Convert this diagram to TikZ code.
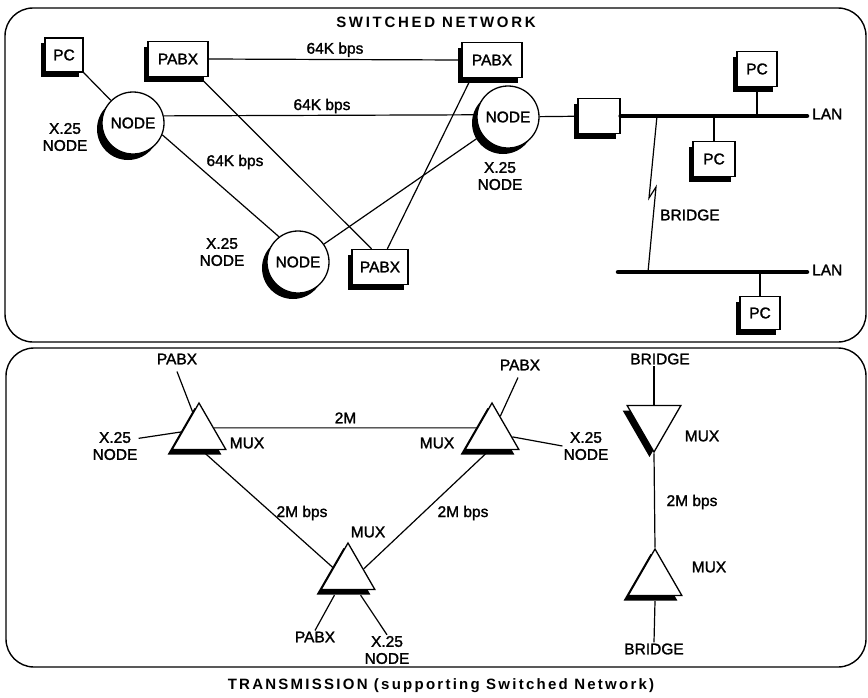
\documentclass[tikz,border=0pt]{standalone}
\usepackage{fontspec}
\setmainfont{Liberation Sans}
\newfontfamily\lblfont{Liberation Sans}[FakeBold=1.6]
\newfontfamily\titlefont{Liberation Sans}[LetterSpace=18]
\newfontfamily\capfont{Liberation Sans}[LetterSpace=15]
\usetikzlibrary{shapes.geometric,shadows,calc}
\begin{document}
\begin{tikzpicture}[x=1pt,y=-1pt,
  txt/.style={font=\lblfont\fontsize{15.5}{17}\selectfont, inner sep=1pt, align=center},
  shad/.style={drop shadow={shadow xshift=-4.5pt,shadow yshift=-5pt,fill=black,opacity=1}},
  rbox/.style={draw, fill=white, line width=1.3pt, shad, inner sep=0pt, font=\lblfont\fontsize{15.5}{17}\selectfont},
  cnode/.style={circle, draw, fill=white, line width=1.3pt, minimum size=62pt, inner sep=0pt,
     drop shadow={shadow xshift=-5pt,shadow yshift=-6pt,fill=black,opacity=1}, font=\lblfont\fontsize{15.5}{17}\selectfont},
  mux/.style={regular polygon, regular polygon sides=3, draw, fill=white, line width=1.3pt,
     minimum size=62pt, inner sep=0pt, shad},
  conn/.style={line width=1.2pt},
  lan/.style={line width=4.5pt, line cap=round},
  frame/.style={line width=1.4pt, rounded corners=28pt}
]
\useasboundingbox (0,0) rectangle (868,697);

% frames
\draw[frame] (5,8) rectangle (866,342);
\draw[frame] (6,348) rectangle (866,667);

% titles
\node[font=\titlefont\bfseries\fontsize{15}{17}\selectfont, inner sep=0pt] (title) at (436,22) {SWITCHED NETWORK};
\node[font=\capfont\bfseries\fontsize{15}{17}\selectfont, inner sep=0pt] (caption) at (441,686) {TRANSMISSION (supporting Switched Network)};

% ---------- switched network ----------
\node[rbox, minimum width=38pt, minimum height=34pt] (pc1) at (64,55) {PC};
\node[rbox, minimum width=60pt, minimum height=35pt] (pabx1) at (178,59) {PABX};
\node[rbox, minimum width=60pt, minimum height=35pt] (pabx2) at (492,60) {PABX};
\node[rbox, minimum width=56pt, minimum height=35pt] (pabx3) at (380,267) {PABX};
\node[cnode] (n1) at (133,123) {NODE};
\node[cnode] (n2) at (508,117) {NODE};
\node[cnode] (n3) at (298,262) {NODE};
\node[rbox, minimum width=42pt, minimum height=35pt] (sq) at (599,116) {};
\node[rbox, minimum width=40pt, minimum height=35pt] (pc2) at (757,69) {PC};
\node[rbox, minimum width=42pt, minimum height=35pt] (pc3) at (714,159) {PC};
\node[rbox, minimum width=40pt, minimum height=33pt] (pc4) at (760,313) {PC};

\node[txt] (xl1) at (65,137) {X.25\\NODE};
\node[txt] (xl2) at (222,252) {X.25\\NODE};
\node[txt] (xl3) at (500,176) {X.25\\NODE};

\draw[conn] (pc1.south east) -- (n1);
\draw[conn] (pabx1.east) -- node[txt, above=1pt, pos=0.5] (k1) {64K bps} (pabx2.west);
\draw[conn] (n1.13) -- (n2.176);
\node[txt] (k2) at (322,106) {64K bps};
\draw[conn] (n1.-22) -- (n3.127);
\node[txt] (k3) at (235,162) {64K bps};
\draw[conn] (n3) -- (n2);
\draw[conn] (pabx1.-40) -- (pabx3.115);
\draw[conn] (pabx3.68) -- (pabx2.-139);
\draw[conn] (n2) -- (sq);

% LANs
\coordinate (lan1e) at (807,116);
\coordinate (lan2w) at (618,272);
\coordinate (lan2e) at (807,272);
\draw[lan] (sq.east) -- (lan1e);
\draw[lan] (lan2w) -- (lan2e);
\node[txt, anchor=west] (lanl1) at (811,114) {LAN};
\node[txt, anchor=west] (lanl2) at (811,270) {LAN};
\draw[conn] (pc2.south) -- (pc2.south |- lan1e);
\draw[conn] (pc3.north) -- (pc3.north |- lan1e);
\draw[conn] (pc4.north) -- (pc4.north |- lan2e);

% bridge
\coordinate (br1) at (657,116);
\coordinate (brz1) at (649,198);
\coordinate (brz2) at (656,187);
\coordinate (br2) at (648,272);
\draw[conn] (br1) -- (brz1) -- (brz2) -- (br2);
\node[txt, anchor=west] (bridgel) at (659,215) {BRIDGE};

% ---------- transmission ----------
\node[mux] (m1) at (199,434) {};
\node[mux] (m2) at (492,434) {};
\node[mux] (m3) at (348,574) {};
\node[mux, shape border rotate=180] (m4) at (654,421) {};
\node[mux] (m5) at (655,580) {};

\node[txt] (pl1) at (177,359) {PABX};
\node[txt] (xm1) at (115,446) {X.25\\NODE};
\node[txt] (mx1) at (247,443) {MUX};
\draw[conn] (pl1.south) ++(0,6) -- (m1.106);
\draw[conn] (xm1.18) -- (m1.173);

\node[txt] (pl2) at (520,365) {PABX};
\node[txt] (xm2) at (586,446) {X.25\\NODE};
\node[txt] (mx2) at (437,443) {MUX};
\draw[conn] (pl2.south) ++(-2,6) -- (m2.65);
\draw[conn] (m2.-8) -- (xm2.west);

\draw[conn] (m1.22) -- node[txt, above=3pt] (l2m) {2M} (m2.158);
\draw[conn] (m1.-81) -- (m3.157);
\node[txt] (l2a) at (302,513) {2M bps};
\draw[conn] (m2.-99) -- (m3.18);
\node[txt] (l2b) at (463,513) {2M bps};

\node[txt] (mx3) at (368,532) {MUX};
\node[txt] (pl3) at (315,637) {PABX};
\node[txt] (xm3) at (387,650) {X.25\\NODE};
\draw[conn] (m3.-130) ++(0,5) -- (pl3.north);
\draw[conn] (m3.-52) ++(0,5) -- (xm3.north);

\node[txt] (bt) at (660,359) {BRIDGE};
\node[txt] (bb) at (654,649) {BRIDGE};
\node[txt] (mx4) at (702,436) {MUX};
\node[txt] (mx5) at (709,567) {MUX};
\node[txt] (l2c) at (692,502) {2M bps};
\draw[conn] (m4.north) -- (m4.north |- bt.south);
\draw[conn] (m4.south) -- (m5.north);
\draw[conn] (m5.south) ++(0,5) -- (bb.north);
\end{tikzpicture}
\end{document}
